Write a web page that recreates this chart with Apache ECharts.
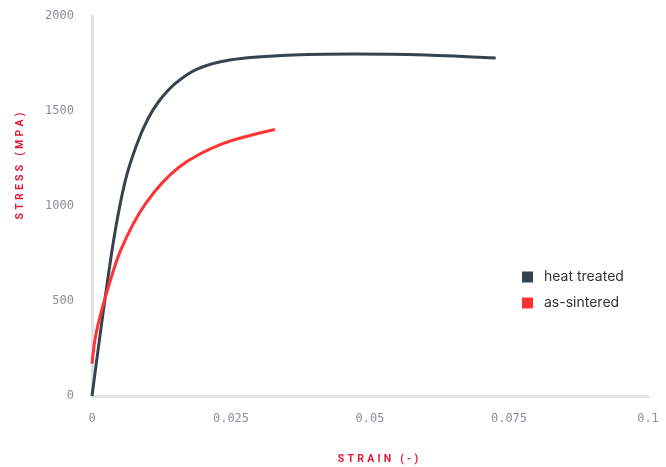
<!DOCTYPE html>
<html>
<head>
<meta charset="utf-8">
<script src="https://cdn.jsdelivr.net/npm/echarts@6/dist/echarts.min.js"></script>
<style>html,body{margin:0;padding:0;background:#fff}#c{width:666px;height:467px}</style>
</head>
<body>
<div id="c"></div>
<script>
const seriesNames = ['heat treated', 'as-sintered'];
const heatTreatedStrain = [0, 0.002, 0.004, 0.006, 0.008, 0.010, 0.012, 0.015, 0.019, 0.025, 0.035, 0.047, 0.06, 0.0726];
const heatTreatedStress = [0, 440, 840, 1135, 1320, 1455, 1550, 1645, 1722, 1770, 1794, 1800, 1795, 1779];
const asSinteredStrain = [0, 0.0005, 0.001, 0.0023, 0.0052, 0.0097, 0.0157, 0.0235, 0.0329];
const asSinteredStress = [170, 290, 365, 510, 770, 1015, 1205, 1328, 1403];
const xTicks = ['0', '0.025', '0.05', '0.075', '0.1'];
const yTicks = ['0', '500', '1000', '1500', '2000'];
const xAxisTitle = 'STRAIN (-)';
const yAxisTitle = 'STRESS (MPA)';

function spaced(s) { return s.split('').join('\u2009\u200a'); }
function pairs(xs, ys) { return xs.map((x, i) => [x, ys[i]]); }

const chart = echarts.init(document.getElementById('c'));
const labelStyle = { color: '#8a9098', fontFamily: 'DejaVu Sans Mono', fontSize: 12 };
const titleStyle = { fill: '#e5173b', font: 'bold 10.5px Roboto' };
chart.setOption({
  animation: false,
  grid: { left: 92, right: 18, top: 16, bottom: 71, containLabel: false },
  legend: {
    orient: 'vertical', left: 517, top: 265, itemGap: 12,
    icon: 'rect', itemWidth: 11, itemHeight: 11,
    textStyle: { color: '#333', fontFamily: 'Inter', fontSize: 14, padding: [0, 0, 0, 6] },
    data: seriesNames
  },
  xAxis: {
    type: 'value', min: 0, max: 0.1, interval: 0.025,
    axisLine: { show: true, lineStyle: { color: '#dfe2e5', width: 3 } },
    axisTick: { show: false }, splitLine: { show: false },
    axisLabel: Object.assign({ margin: 17, formatter: (v, i) => xTicks[i] }, labelStyle)
  },
  yAxis: {
    type: 'value', min: 0, max: 2000, interval: 500,
    axisLine: { show: true, lineStyle: { color: '#dfe2e5', width: 3 } },
    axisTick: { show: false }, splitLine: { show: false },
    axisLabel: Object.assign({ margin: 18, formatter: (v, i) => yTicks[i] }, labelStyle)
  },
  graphic: [
    { type: 'text', x: 378, y: 459, style: Object.assign({ text: spaced(xAxisTitle), align: 'center', verticalAlign: 'middle' }, titleStyle) },
    { type: 'text', x: 20, y: 166, rotation: Math.PI / 2, style: Object.assign({ text: spaced(yAxisTitle), align: 'center', verticalAlign: 'middle' }, titleStyle) }
  ],
  series: [
    { name: seriesNames[0], type: 'line', smooth: 0.3, showSymbol: false, symbol: 'none',
      data: pairs(heatTreatedStrain, heatTreatedStress), itemStyle: { color: '#36434f' }, lineStyle: { color: '#36434f', width: 3 } },
    { name: seriesNames[1], type: 'line', smooth: 0.3, showSymbol: false, symbol: 'none',
      data: pairs(asSinteredStrain, asSinteredStress), itemStyle: { color: '#ff3333' }, lineStyle: { color: '#ff3333', width: 3 } }
  ]
});
</script>
</body>
</html>
